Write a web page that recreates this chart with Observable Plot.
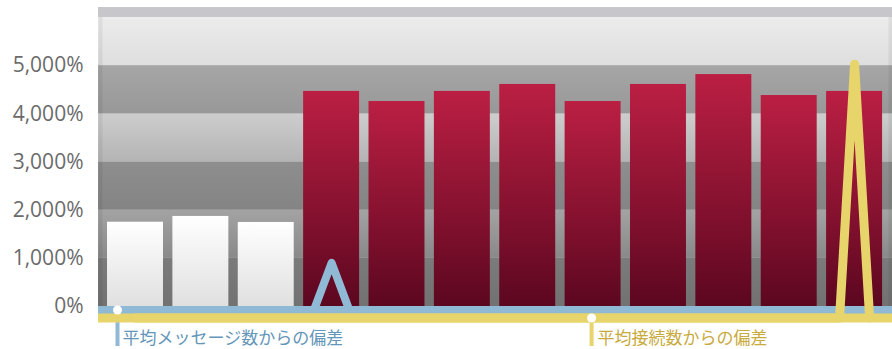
<!DOCTYPE html>
<html>
<head>
<meta charset="utf-8">
<script src="https://cdn.jsdelivr.net/npm/d3@7"></script>
<script src="https://cdn.jsdelivr.net/npm/@observablehq/plot@0.6"></script>
<style>
  body { margin: 0; background: #fff; }
  #chart svg { display: block; }
</style>
</head>
<body>
<svg id="defs" width="0" height="0" style="position:absolute"><defs id="gradients"></defs></svg>
<div id="chart"></div>
<script>
// ---- data ----
const categories = ["1", "2", "3", "4", "5", "6", "7", "8", "9", "10", "11", "12"];
const groups = ["before", "before", "before", "after", "after", "after", "after", "after", "after", "after", "after", "after"];
const values = [1750, 1870, 1745, 4465, 4255, 4465, 4610, 4255, 4610, 4815, 4380, 4465];
const msgDeviation = [0, 0, 0, 980, 0, 0, 0, 0, 0, 0, 0, 0];
const connDeviation = [0, 0, 0, 0, 0, 0, 0, 0, 0, 0, 0, 5270];
const yTicks = [0, 1000, 2000, 3000, 4000, 5000];
const bandEdges = [0, 1000, 2000, 3000, 4000, 5000, 6000];
const msgLabel = "平均メッセージ数からの偏差";
const connLabel = "平均接続数からの偏差";
const msgLabelCategory = 0;
const connLabelCategory = 7;

// ---- styles ----
const bandColors = [
  ["#7b7b7b", "#727272"],
  ["#a3a3a3", "#898989"],
  ["#8e8e8e", "#848484"],
  ["#cdcdcd", "#b4b4b4"],
  ["#a7a6a7", "#999899"],
  ["#ececec", "#dedede"]
];
const barGradients = {before: ["#ffffff", "#e0e0e0"], after: ["#bb1f43", "#5c0720"]};
const blueColor = "#90b9d6";
const yellowColor = "#e7d56b";
const blueText = "#6396b9";
const yellowText = "#c9aa3d";

// gradient defs
const defs = document.getElementById("gradients");
function addGradient(id, top, bottom) {
  const ns = "http://www.w3.org/2000/svg";
  const g = document.createElementNS(ns, "linearGradient");
  g.setAttribute("id", id);
  g.setAttribute("x1", "0"); g.setAttribute("y1", "0");
  g.setAttribute("x2", "0"); g.setAttribute("y2", "1");
  [[0, top], [1, bottom]].forEach(([o, c]) => {
    const s = document.createElementNS(ns, "stop");
    s.setAttribute("offset", o);
    s.setAttribute("stop-color", c);
    g.appendChild(s);
  });
  defs.appendChild(g);
}
bandColors.forEach((c, i) => addGradient("band" + i, c[0], c[1]));
Object.entries(barGradients).forEach(([k, c]) => addGradient("bar-" + k, c[0], c[1]));

// tables
const bars = categories.map((c, i) => ({category: c, group: groups[i], x1: i, x2: i + 1, value: values[i]}));
const bands = bandEdges.slice(0, -1).map((e, i) => ({y1: e, y2: bandEdges[i + 1], i}));
function spikeLine(devs, half) {
  const pts = [];
  devs.forEach((v, i) => {
    const c = i + 0.5;
    if (v) pts.push({x: c - half, y: 0}, {x: c, y: v}, {x: c + half, y: 0});
    else pts.push({x: c, y: 0});
  });
  return pts;
}
const msgLine = spikeLine(msgDeviation, 0.27);
const connLine = spikeLine(connDeviation, 0.23);
const annotations = [
  {x: msgLabelCategory + 0.5, y: 0, label: msgLabel},
  {x: connLabelCategory + 0.5, y: 0, label: connLabel}
];

const blueDy = 3.5, yellowDy = 11.5;

const chart = Plot.plot({
  width: 892,
  height: 349,
  marginLeft: 98,
  marginRight: 0,
  marginTop: 7,
  marginBottom: 28,
  style: {fontFamily: "'Open Sans', sans-serif", fontSize: "21px", color: "#6b6b6b", background: "#fff"},
  x: {domain: [-0.066, 12.08], axis: null},
  y: {domain: [-311, 6207], ticks: yTicks, tickFormat: d => d3.format(",")(d) + "%", tickSize: 0, tickPadding: 15, label: null},
  marks: [
    // outer frame fill
    Plot.rect([{y1: -311, y2: 6207}], {y1: "y1", y2: "y2", fill: "#c7c7cb"}),
    Plot.rect([{y1: -311, y2: 0}], {y1: "y1", y2: "y2", fill: "#767676"}),
    ...bands.map(b => Plot.rect([b], {y1: "y1", y2: "y2", fill: `url(#band${b.i})`})),
    Plot.frame({stroke: "#000", strokeOpacity: 0.06, strokeWidth: 4, inset: 2}),
    Plot.rect([{y1: 6000, y2: 6207}], {y1: "y1", y2: "y2", fill: "#c7c7cb"}),
    // bars
    Plot.rectY(bars.filter(d => d.group === "before"), {x1: "x1", x2: "x2", y: "value", fill: "url(#bar-before)", insetLeft: 4.7, insetRight: 4.7}),
    Plot.rectY(bars.filter(d => d.group === "after"), {x1: "x1", x2: "x2", y: "value", fill: "url(#bar-after)", insetLeft: 4.7, insetRight: 4.7}),
    // blue annotation tick
    Plot.ruleX([annotations[0]], {x: "x", y1: "y", y2: "y", dx: -18, stroke: blueColor, strokeWidth: 4, insetTop: blueDy, insetBottom: -40}),
    // blue series
    Plot.ruleY([0], {stroke: blueColor, strokeWidth: 8, dy: blueDy}),
    Plot.line(msgLine, {x: "x", y: "y", stroke: blueColor, strokeWidth: 8, dy: blueDy, strokeLinejoin: "round"}),
    // yellow annotation tick
    Plot.ruleX([annotations[1]], {x: "x", y1: "y", y2: "y", dx: -1.5, stroke: yellowColor, strokeWidth: 4, insetTop: yellowDy, insetBottom: -40}),
    // yellow series
    Plot.ruleY([0], {stroke: yellowColor, strokeWidth: 9, dy: yellowDy}),
    Plot.line(connLine, {x: "x", y: "y", stroke: yellowColor, strokeWidth: 9, dy: yellowDy, strokeLinejoin: "round"}),
    // dots
    Plot.dot([annotations[0]], {x: "x", y: "y", dx: -18, dy: blueDy, r: 4.5, fill: "#fff"}),
    Plot.dot([annotations[1]], {x: "x", y: "y", dx: -1.5, dy: yellowDy, r: 4.5, fill: "#fff"}),
    // labels
    Plot.text([annotations[0]], {x: "x", y: "y", text: "label", dx: -13, dy: 32.5, textAnchor: "start", fill: blueText, fontSize: 17, fontFamily: "'Noto Sans CJK JP', sans-serif"}),
    Plot.text([annotations[1]], {x: "x", y: "y", text: "label", dx: 4.5, dy: 32.5, textAnchor: "start", fill: yellowText, fontSize: 17, fontFamily: "'Noto Sans CJK JP', sans-serif"})
  ]
});
document.getElementById("chart").appendChild(chart);
</script>
</body>
</html>
